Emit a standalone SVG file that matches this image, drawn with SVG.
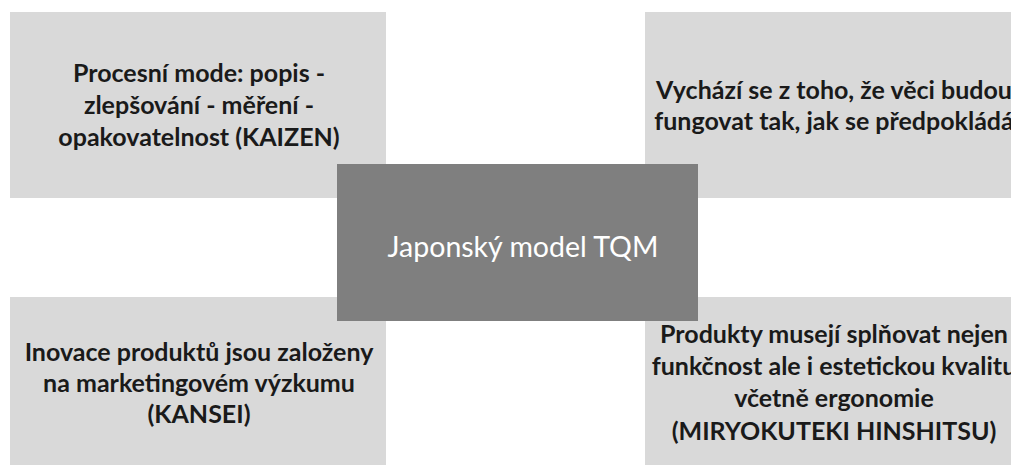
<svg xmlns="http://www.w3.org/2000/svg" width="1011" height="465" viewBox="0 0 1011 465">
  <style>
    .box { fill: #D9D9D9; }
    .core { fill: #7F7F7F; }
    .t { font-family: Lato, "Open Sans", "Liberation Sans", sans-serif; font-weight: bold; font-size: 25px; fill: #1A1A1A; text-anchor: middle; }
    .ct { font-family: Lato, "Open Sans", "Liberation Sans", sans-serif; font-size: 28.5px; fill: #FFFFFF; text-anchor: middle; }
  </style>
  <rect width="1011" height="465" fill="#FFFFFF"/>
  <g id="connectors"/>
  <g id="node-kaizen">
    <rect class="box" x="10" y="12" width="376" height="186"/>
    <text class="t" x="199" y="82">Procesní mode: popis -</text>
    <text class="t" x="199" y="114">zlepšování - měření -</text>
    <text class="t" x="199" y="146">opakovatelnost (KAIZEN)</text>
  </g>
  <g id="node-predpoklad">
    <rect class="box" x="645" y="12" width="380" height="186"/>
    <text class="t" x="834" y="99">Vychází se z toho, že věci budou</text>
    <text class="t" x="834" y="130">fungovat tak, jak se předpokládá</text>
  </g>
  <g id="node-kansei">
    <rect class="box" x="10" y="297" width="376" height="170"/>
    <text class="t" x="199" y="361">Inovace produktů jsou založeny</text>
    <text class="t" x="199" y="392">na marketingovém výzkumu</text>
    <text class="t" x="199" y="423">(KANSEI)</text>
  </g>
  <g id="node-miryokuteki">
    <rect class="box" x="645" y="297" width="380" height="170"/>
    <text class="t" x="834" y="343">Produkty musejí splňovat nejen</text>
    <text class="t" x="834" y="375">funkčnost ale i estetickou kvalitu</text>
    <text class="t" x="834" y="407">včetně ergonomie</text>
    <text class="t" x="834" y="440">(MIRYOKUTEKI HINSHITSU)</text>
  </g>
  <g id="node-center">
    <rect class="core" x="337" y="164" width="361" height="157"/>
    <text class="ct" x="523" y="257">Japonský model TQM</text>
  </g>
</svg>
